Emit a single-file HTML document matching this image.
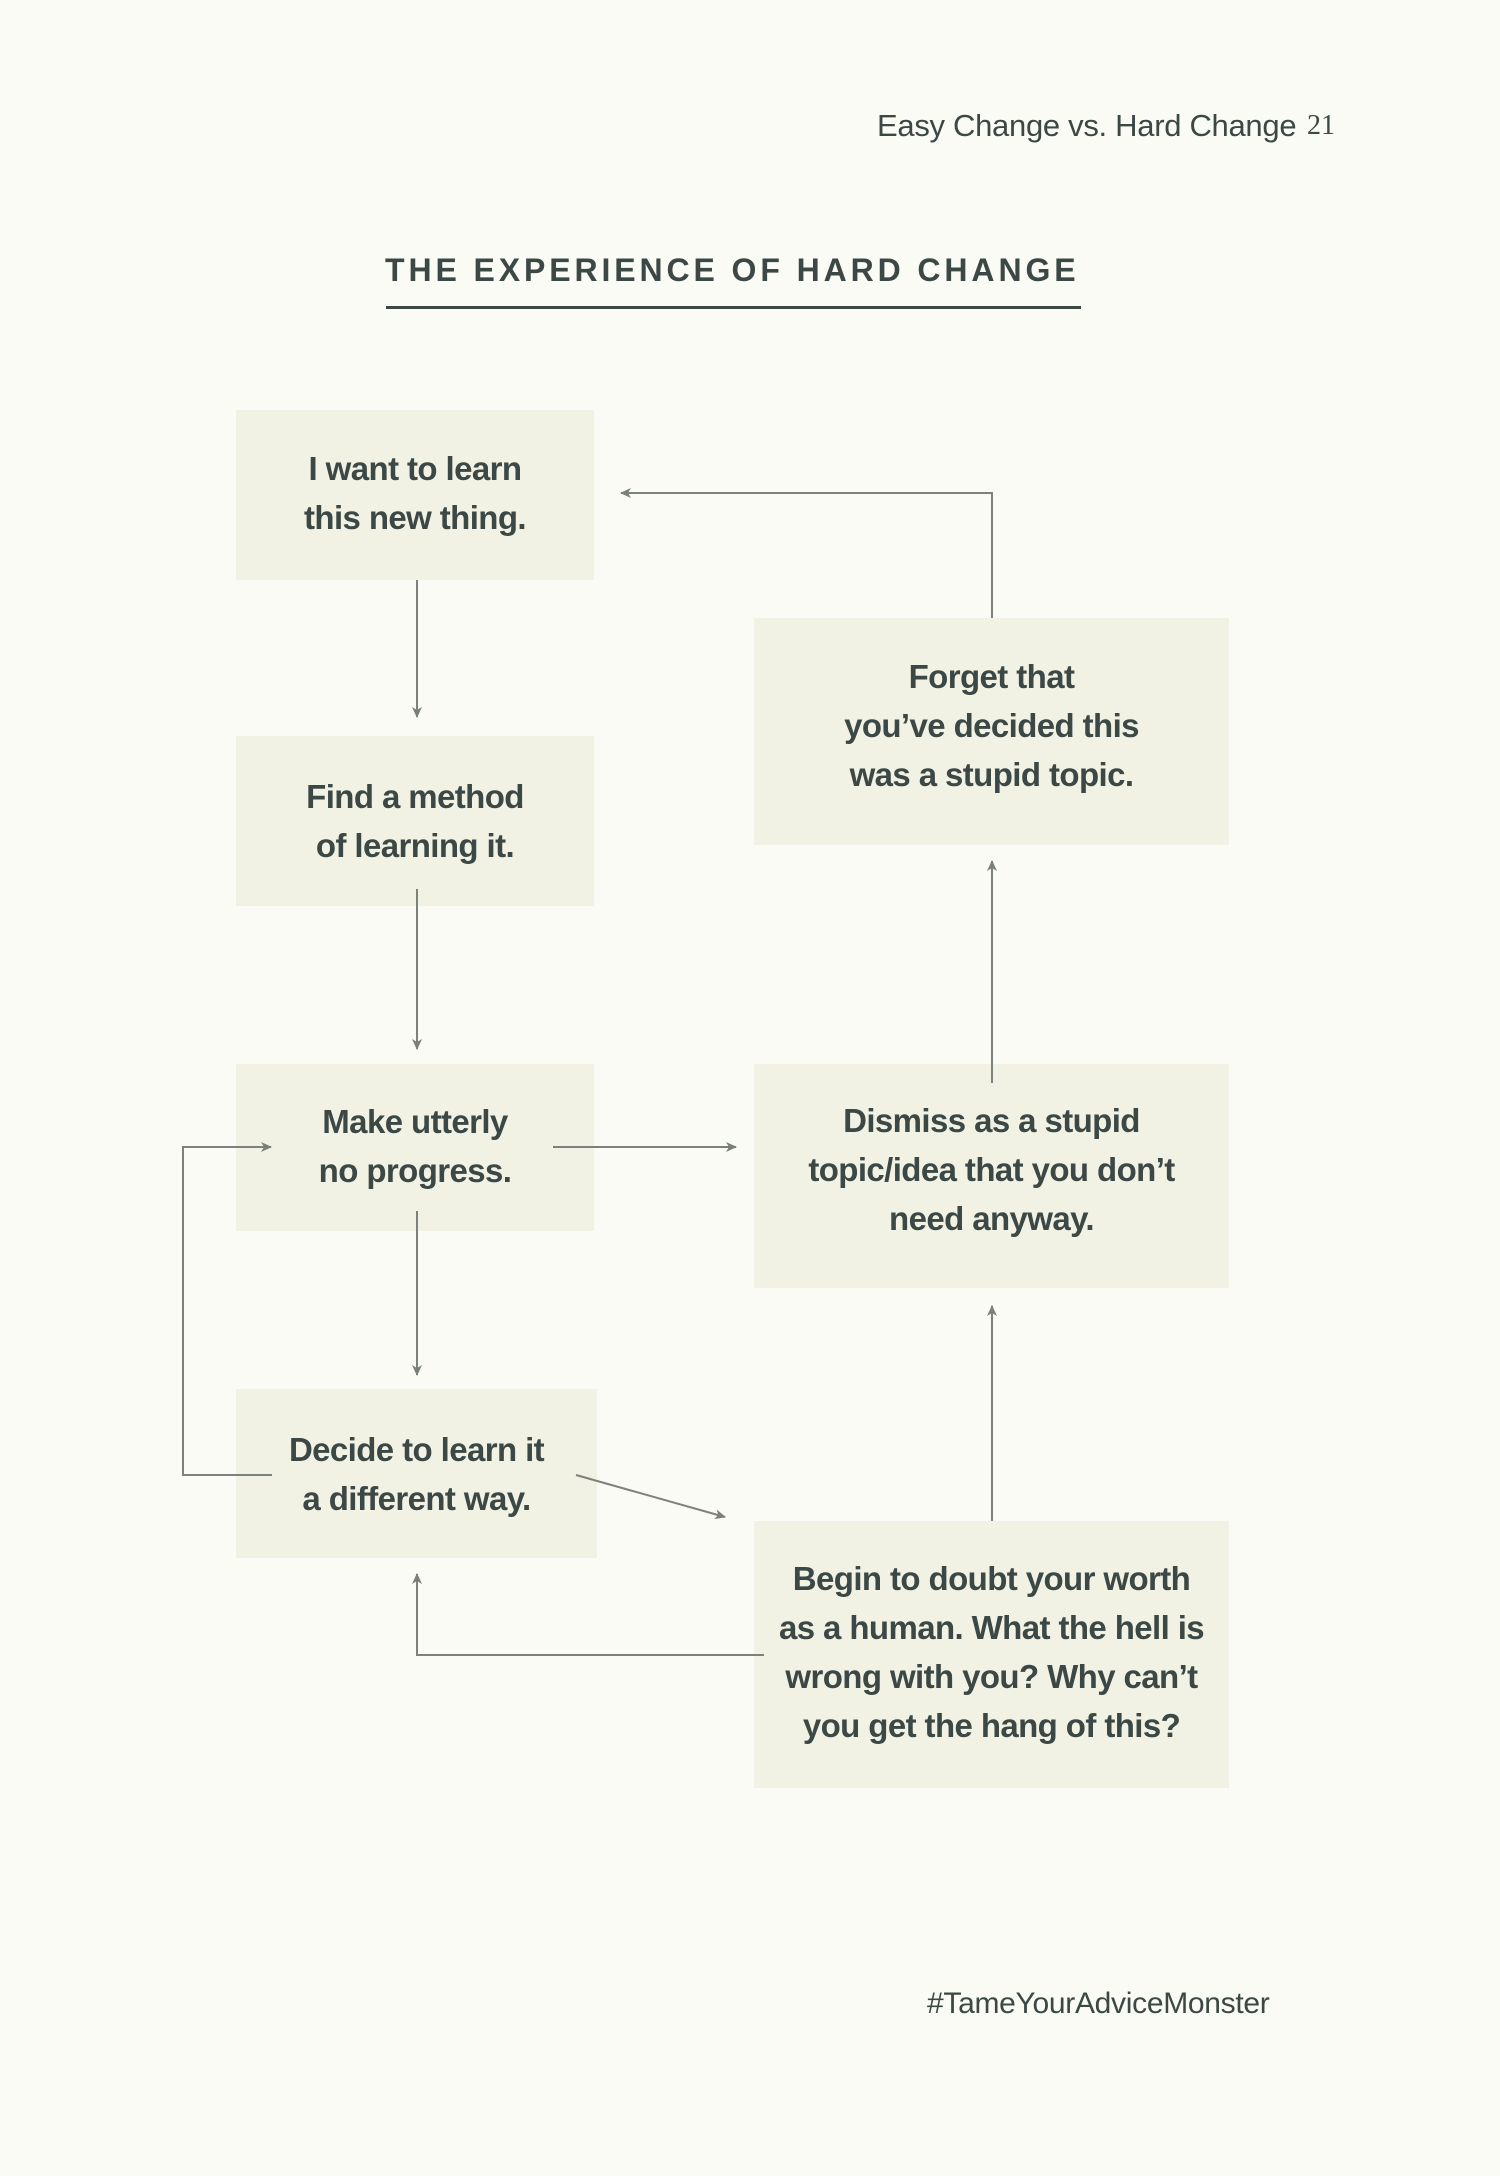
<!DOCTYPE html>
<html><head><meta charset="utf-8"><style>
html,body{margin:0;padding:0;}
body{width:1500px;height:2176px;background:#fbfbf5;position:relative;overflow:hidden;font-family:"Liberation Sans",sans-serif;}
.box{position:absolute;background:#f2f2e4;display:flex;align-items:center;justify-content:center;text-align:center;color:#3b4845;font-weight:bold;font-size:33px;line-height:49px;letter-spacing:-0.6px;box-sizing:border-box;}
.t{position:absolute;color:#3b4845;white-space:nowrap;}
svg{position:absolute;left:0;top:0;}
</style></head><body>
<div class="t" style="left:877px;top:108px;font-size:31px;letter-spacing:-0.3px;">Easy Change vs. Hard Change</div>
<div class="t" style="left:1307px;top:110px;font-size:28px;font-family:'Liberation Serif',serif;">21</div>
<div class="t" style="left:385px;top:252px;font-size:32px;font-weight:bold;letter-spacing:3.9px;">THE EXPERIENCE OF HARD CHANGE</div>
<div style="position:absolute;left:386px;top:306px;width:695px;height:3px;background:#3b4845;"></div>

<div class="box" style="left:236px;top:410px;width:358px;height:170px;padding-bottom:4px;">I want to learn<br>this new thing.</div>
<div class="box" style="left:236px;top:736px;width:358px;height:170px;">Find a method<br>of learning it.</div>
<div class="box" style="left:236px;top:1064px;width:358px;height:167px;padding-bottom:4px;">Make utterly<br>no progress.</div>
<div class="box" style="left:236px;top:1389px;width:361px;height:169px;">Decide to learn it<br>a different way.</div>
<div class="box" style="left:754px;top:618px;width:475px;height:227px;padding-bottom:12px;">Forget that<br>you’ve decided this<br>was a stupid topic.</div>
<div class="box" style="left:754px;top:1064px;width:475px;height:224px;padding-bottom:14px;">Dismiss as a stupid<br>topic/idea that you don’t<br>need anyway.</div>
<div class="box" style="left:754px;top:1521px;width:475px;height:267px;padding-bottom:6px;">Begin to doubt your worth<br>as a human. What the hell is<br>wrong with you? Why can’t<br>you get the hang of this?</div>

<svg width="1500" height="2176" viewBox="0 0 1500 2176">
<defs><marker id="a" markerWidth="12" markerHeight="12" refX="10" refY="6" orient="auto" markerUnits="userSpaceOnUse"><path d="M0,1 L11,6 L0,11 L3,6 Z" fill="#7a7f7a"/></marker></defs>
<g stroke="#7d817c" stroke-width="2" fill="none" marker-end="url(#a)">
<line x1="417" y1="580" x2="417" y2="717"/>
<line x1="417" y1="889" x2="417" y2="1049"/>
<line x1="417" y1="1211" x2="417" y2="1375"/>
<line x1="553" y1="1147" x2="736" y2="1147"/>
<polyline points="272,1475 183,1475 183,1147 271,1147"/>
<line x1="576" y1="1475" x2="725" y2="1517"/>
<polyline points="764,1655 417,1655 417,1574"/>
<line x1="992" y1="1521" x2="992" y2="1306"/>
<line x1="992" y1="1083" x2="992" y2="861"/>
<polyline points="992,618 992,493 621,493"/>
</g>
</svg>
<div class="t" style="left:927px;top:1987px;font-size:30px;letter-spacing:-0.3px;">#TameYourAdviceMonster</div>
</body></html>
